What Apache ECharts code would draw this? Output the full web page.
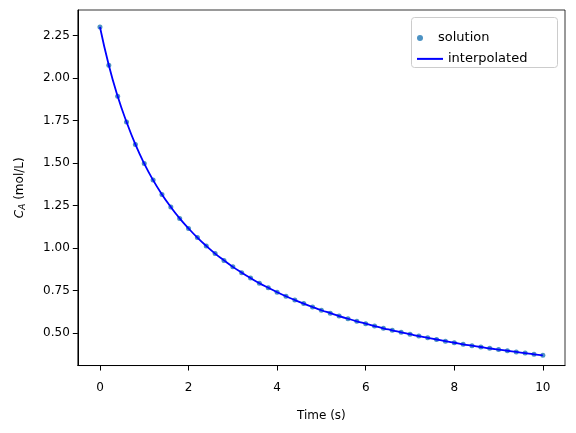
<!DOCTYPE html><html><head><script src="https://cdn.jsdelivr.net/npm/echarts@6/dist/echarts.min.js"></script></head><body style="margin:0"><div id="c" style="width:576px;height:433px"></div><script>
const times=[0,0.2,0.4,0.6,0.8,1.0,1.2,1.4,1.6,1.8,2.0,2.2,2.4,2.6,2.8,3.0,3.2,3.4,3.6,3.8,4.0,4.2,4.4,4.6,4.8,5.0,5.2,5.4,5.6,5.8,6.0,6.2,6.4,6.6,6.8,7.0,7.2,7.4,7.6,7.8,8.0,8.2,8.4,8.6,8.8,9.0,9.2,9.4,9.6,9.8,10];
const conc=[2.300,2.075,1.893,1.742,1.610,1.497,1.400,1.316,1.242,1.175,1.116,1.062,1.013,0.968,0.928,0.890,0.856,0.824,0.794,0.767,0.741,0.717,0.695,0.674,0.654,0.635,0.618,0.601,0.585,0.570,0.556,0.542,0.529,0.517,0.505,0.494,0.483,0.473,0.463,0.453,0.444,0.435,0.427,0.419,0.411,0.404,0.397,0.390,0.383,0.376,0.370];
const xTicks=[0,2,4,6,8,10];
const yTicks=[0.5,0.75,1.0,1.25,1.5,1.75,2.0,2.25];
const pts=times.map((t,i)=>[t,conc[i]]);
const ch=echarts.init(document.getElementById('c'));
const lt={fontFamily:'DejaVu Sans',fontSize:13,color:'#000'};
ch.setOption({animation:false,
grid:{left:72,right:11,top:10,bottom:53,show:true,borderColor:'#000',borderWidth:0.8},
graphic:[{type:'rect',right:18,top:17,shape:{width:146,height:50,r:3},style:{fill:'#fff',stroke:'#ccc',lineWidth:1},z:50}],
legend:[{left:412,top:20,itemWidth:26,itemHeight:6,textStyle:lt,selectedMode:false,z:60,data:[{name:'solution',icon:'circle',itemStyle:{color:'#1f77b4'}}]},
 {left:412,top:41,itemWidth:26,itemHeight:2,textStyle:lt,selectedMode:false,z:60,data:[{name:'interpolated',icon:'rect',itemStyle:{color:'#0000ff'}}]}],
xAxis:{type:'value',min:-0.5,max:10.5,splitLine:{show:false},axisLine:{onZero:false,lineStyle:{color:'#000'}},
 axisTick:{customValues:xTicks,lineStyle:{color:'#000'}},axisLabel:{customValues:xTicks,color:'#000',fontFamily:'DejaVu Sans',fontSize:12,margin:10},
 name:'Time (s)',nameLocation:'middle',nameGap:30,nameTextStyle:{color:'#000',fontFamily:'DejaVu Sans',fontSize:12}},
yAxis:{type:'value',min:0.31,max:2.40,splitLine:{show:false},axisLine:{show:true,onZero:false,lineStyle:{color:'#000'}},
 axisTick:{show:true,customValues:yTicks,lineStyle:{color:'#000'}},axisLabel:{customValues:yTicks,color:'#000',fontFamily:'DejaVu Sans',fontSize:12,formatter:v=>v.toFixed(2)},
 name:'{c|C}{s|A} (mol/L)',nameLocation:'middle',nameGap:46,nameTextStyle:{color:'#000',fontFamily:'DejaVu Sans',fontSize:12,rich:{c:{fontStyle:'italic',fontSize:12,fontFamily:'DejaVu Sans'},s:{fontStyle:'italic',fontSize:9,verticalAlign:'bottom',padding:[6,0,0,0],fontFamily:'DejaVu Sans'}}}},
series:[{name:'solution',type:'scatter',data:pts,symbolSize:5,itemStyle:{color:'#1f77b4'}},
{name:'interpolated',type:'line',data:pts,smooth:true,symbol:'none',lineStyle:{color:'#0000ff',width:1.8},itemStyle:{color:'#0000ff'}}]});
</script></body></html>
